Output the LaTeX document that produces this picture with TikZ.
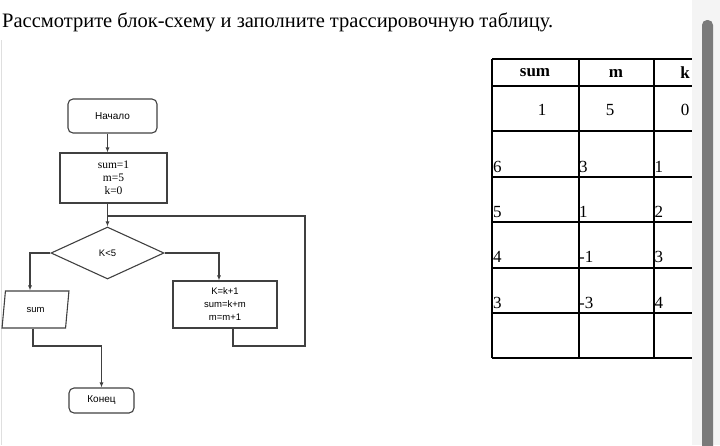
\documentclass[tikz,border=0pt]{standalone}
\usepackage{fontspec}
\setmainfont{Liberation Serif}
\newfontfamily\sansf{Liberation Sans}
\usepackage{tikz}
\usetikzlibrary{shapes, arrows.meta, positioning}
\usetikzlibrary{calc}
\definecolor{linegray}{HTML}{404040}
\definecolor{barbg}{HTML}{F4F4F4}
\definecolor{bargray}{HTML}{7A7A7A}

\begin{document}
\begin{tikzpicture}
  [
    x=1pt, y=-1pt,
    >={Latex[length=5pt,width=4pt]},
    Term/.style={rectangle, rounded corners=5pt, draw=linegray, line width=1.1pt, inner sep=0pt, font=\sansf\fontsize{10}{12}\selectfont},
    Proc/.style={rectangle, draw=linegray, line width=1.1pt, inner sep=0pt, align=center},
    Cond/.style={diamond, draw=linegray, line width=1.1pt, inner sep=0pt, aspect=2, font=\sansf\fontsize{9.5}{11}\selectfont},
    Data/.style={trapezium, trapezium left angle=79, trapezium right angle=101, trapezium stretches=true, draw=linegray, line width=1.1pt, inner sep=0pt, font=\sansf\fontsize{9.5}{11}\selectfont},
    Flow/.style={draw=linegray, line width=1.1pt},
    Cell/.style={inner sep=0pt, font=\fontsize{17}{20}\selectfont},
    Head/.style={inner sep=0pt, font=\bfseries\fontsize{17}{20}\selectfont}
  ]
  \useasboundingbox (0,0) rectangle (720,445);

  % Page
  \fill[barbg] (692,0) rectangle (720,445);
  \fill[bargray, rounded corners=5pt] (702,20) rectangle (713,460);
  \draw[gray!25, line width=1pt] (1,40) -- (1,445);
  \node[anchor=base west, inner sep=0pt, font=\fontsize{20.5}{24}\selectfont] (title) at (2,27)
    {Рассмотрите блок-схему и заполните трассировочную таблицу.};

  % Nodes (x, y)
  \node[Term, minimum width=89, minimum height=34] (v0) at (112.5,116) {Начало};
  \node[Proc, minimum width=107, minimum height=50, font=\fontsize{11.5}{13}\selectfont] (v1) at (113.5,178) {sum=1\\m=5\\k=0};
  \node[Cond, minimum width=113, minimum height=52] (v2) at (107.5,253) {K<5};
  \node[Proc, minimum width=104, minimum height=47, font=\sansf\fontsize{9.5}{13}\selectfont] (v3) at (225,304.5) {K=k+1\\sum=k+m\\m=m+1};
  \node[Data, minimum width=67, minimum height=37] (v4) at (35.5,309.5) {sum};
  \node[Term, minimum width=65, minimum height=25, font=\sansf\fontsize{10}{12}\selectfont] (v5) at (101.5,400.5) {Конец};

  % Bends
  \coordinate (j1) at (30,253);
  \coordinate (j2) at (219,253);
  \coordinate (j3) at (233,346);
  \coordinate (j4) at (305,216);
  \coordinate (j5) at (33,346);

  % Lines
  % start -> init
  \path [->, Flow] (v0.south -| v2.north) -- (v1.north -| v2.north);
  % init -> K<5
  \path [->, Flow] (v1.south -| v2.north) -- (v2.north);
  % no -> sum
  \path [->, Flow] (v2.west) -- (j1) -- (j1 |- v4.north);
  % yes -> body
  \path [->, Flow] (v2.east) -- (j2) -- (j2 |- v3.north);
  % body -> back to K<5
  \path [Flow] (v3.south -| j3) -- (j3) -| (j4) -- (j4 -| v2.north);
  % sum -> end
  \path [->, Flow] (v4.south -| j5) -- (j5) -| (v5.north);

  % Table
  \foreach \y in {59,86,131,177,222,268,313,358}
    \draw[line width=1.2pt] (492,\y) -- (692,\y);
  \foreach \x in {492,579,654}
    \draw[line width=1.2pt] (\x,59) -- (\x,358);

  \node[Head] (hsum) at (535,73) {sum};
  \node[Head] (hm) at (616,73) {m};
  \node[Head] (hk) at (685,73) {k};

  \node[Cell] (r1a) at (542,110) {1};
  \node[Cell] (r1b) at (610,110) {5};
  \node[Cell] (r1c) at (685,110) {0};

  \foreach \s/\m/\k/\y in {6/3/1/172, 5/1/2/217, 4/-1/3/262, 3/-3/4/308} {
    \node[Cell, anchor=base west] at (493,\y) {\s};
    \node[Cell, anchor=base west] at (579,\y) {\m};
    \node[Cell, anchor=base west] at (654.5,\y) {\k};
  }

\end{tikzpicture}
\end{document}
